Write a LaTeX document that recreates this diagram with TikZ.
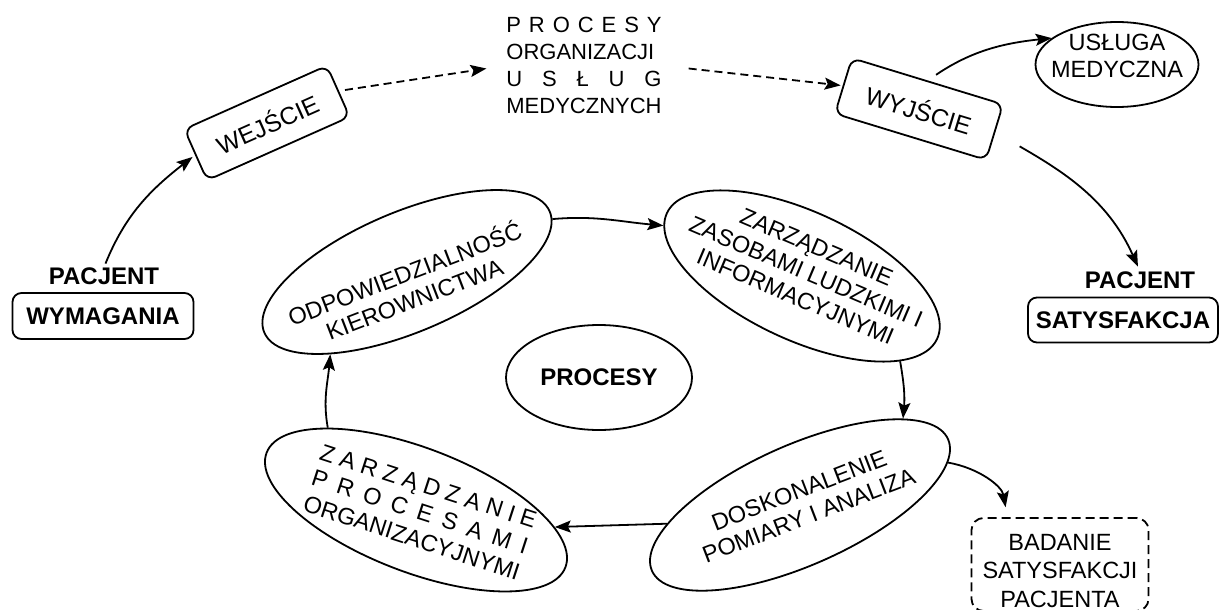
\documentclass[tikz,border=0pt]{standalone}
\usepackage{fontspec}
\setmainfont{Liberation Sans}
\usetikzlibrary{arrows.meta,shapes.geometric}

% stretch a letter-spaced line to the width of a reference word
\newlength\spreadw
\newcommand\spreadto[2]{\settowidth{\spreadw}{#1}\makebox[\spreadw][s]{#2}}

\begin{document}
\begin{tikzpicture}[x=1pt,y=1pt,
  every node/.style={font=\fontsize{23.5}{27}\selectfont, inner sep=0pt},
  lbl/.style={font=\fontsize{24}{28}\selectfont\bfseries},
  boxtext/.style={font=\fontsize{24.5}{28}\selectfont},
  rbox/.style={draw, line width=1.8pt, rounded corners=9pt, align=center},
  oval/.style={draw, ellipse, line width=1.8pt, inner sep=0pt},
  arr/.style={line width=1.8pt, -{Stealth[length=16pt,width=12pt,inset=3pt]}},
  dashlink/.style={arr, dash pattern=on 8pt off 5pt},
]
\fill[white] (0,0) rectangle (1221,-610);
\clip (0,0) rectangle (1221,-610);

% patient requirements (left)
\node[lbl] (pacL) at (104,-276) {PACJENT};
\node[rbox,lbl,minimum width=181pt,minimum height=46pt] (wym) at (103,-316) {WYMAGANIA};

% input / output boxes and the organisation processes
\node[rbox,boxtext,rotate=24,minimum width=156pt,minimum height=56pt] (wej) at (267,-123) {WEJŚCIE};
\node[align=left,font=\fontsize{22}{27}\selectfont] (proc) at (584,-65.5)
  {\spreadto{MEDYCZNYCH}{P R O C E S Y}\\ORGANIZACJI\\\spreadto{MEDYCZNYCH}{U S Ł U G}\\MEDYCZNYCH};
\node[rbox,boxtext,rotate=-17,minimum width=158pt,minimum height=58pt] (wyj) at (919,-109) {WYJŚCIE};

% medical service and patient satisfaction (right)
\node[oval,minimum width=163pt,minimum height=85pt] (usl) at (1117,-64.5) {};
\node[align=center] (uslt) at (1117,-56) {USŁUGA\\MEDYCZNA};
\node[lbl] (pacR) at (1140,-280) {PACJENT};
\node[rbox,lbl,minimum width=190pt,minimum height=45pt] (sat) at (1123,-320) {SATYSFAKCJA};

% the process cycle
\node[oval,rotate=23,minimum width=310pt,minimum height=120pt] (odp) at (407,-272) {};
\node[rotate=21,align=center] (odpt) at (409,-285) {ODPOWIEDZIALNOŚĆ\\KIEROWNICTWA};

\node[oval,rotate=-25,minimum width=298pt,minimum height=128pt] (zar) at (802,-276) {};
\node[rotate=-23,align=center] (zart) at (806,-272) {ZARZĄDZANIE\\ZASOBAMI LUDZKIMI I\\INFORMACYJNYMI};

\node[oval,minimum width=186pt,minimum height=105pt] (pro) at (599,-377.5) {};
\node[lbl] (prot) at (599,-377.5) {PROCESY};

\node[oval,rotate=24,minimum width=324pt,minimum height=120pt] (dos) at (800,-505) {};
\node[rotate=21,align=center] (dost) at (804,-503) {DOSKONALENIE\\POMIARY I ANALIZA};

\node[oval,rotate=-21,minimum width=320pt,minimum height=124pt] (zpr) at (416,-510) {};
\node[rotate=-18,align=center] (zprt) at (420,-512)
  {\spreadto{ORGANIZACYJNYMI}{Z A R Z Ą D Z A N I E}\\\spreadto{ORGANIZACYJNYMI}{P R O C E S A M I}\\ORGANIZACYJNYMI};

% patient satisfaction survey
\node[draw, line width=1.8pt, rounded corners=12pt, dash pattern=on 9pt off 5pt,
      minimum width=177pt, minimum height=93pt] (bad) at (1060,-564.5) {};
\node[align=center,font=\fontsize{23.5}{28.5}\selectfont] (badt) at (1060,-571) {BADANIE\\SATYSFAKCJI\\PACJENTA};

% connectors
\draw[arr, shorten <=4pt, shorten >=3pt] (pacL.north) to[out=68,in=218] (wej.west);
\draw[dashlink, shorten <=6pt, shorten >=20pt] (wej.east) -- (proc.west);
\draw[dashlink, shorten <=27pt, shorten >=2pt] (proc.east) -- (wyj.west);
\draw[arr, shorten <=10pt] (wyj.north) to[out=34,in=186] (usl.158);
\draw[arr, shorten <=28pt, shorten >=5pt] (wyj.east) to[out=-30,in=114] (pacR.north);

\draw[arr] (odp.-3) to[out=5,in=175] (zar.185);
\draw[arr] (zar.-16) to[out=-80,in=85] (dos.16);
\draw[arr] (dos.164) -- (zpr.14);
\draw[arr] (zpr.158) to[out=100,in=-95] (odp.204);
\draw[arr, shorten >=10pt] (dos.-8) to[out=-10,in=100] (bad.138);
\end{tikzpicture}
\end{document}
